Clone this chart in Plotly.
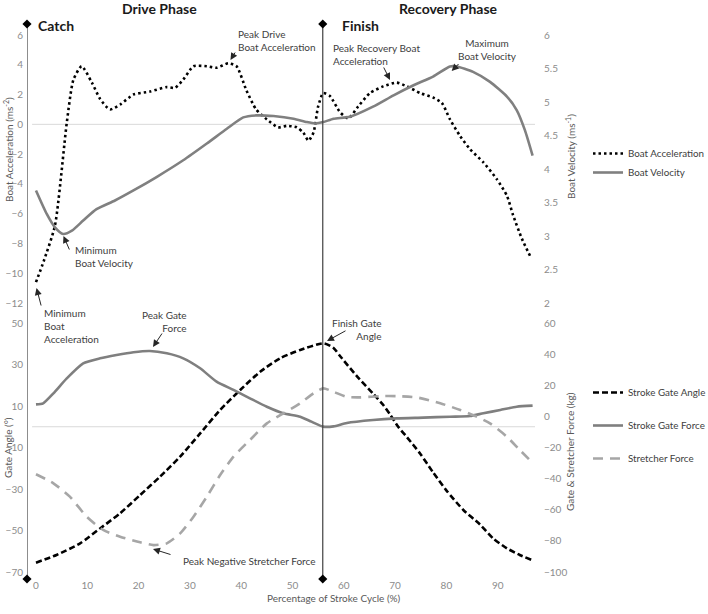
import plotly.graph_objects as go

W, H = 708, 614

# ---------------- data ----------------
acc_x = [0, 1.5, 3.7, 6, 7.3, 8.9, 10.9, 12.5, 14.4, 16.4, 19, 22.2, 25.5, 27.1, 28.7, 30.7,
         33.3, 35.2, 37.5, 39.1, 41, 42.9, 45, 47.2, 48.9, 50.8, 52.1, 53.1, 54.1, 55, 56,
         57.3, 59.3, 60.9, 62.8, 65.1, 67.7, 70.3, 72.3, 74.9, 77.4, 79.1, 80.7, 82.7, 84.6,
         87.2, 89.8, 91.8, 93, 94.7, 96.4]
acc_y = [-10.6, -9.2, -6.8, 0.1, 3.0, 3.9, 2.8, 1.7, 1.0, 1.33, 2.0, 2.2, 2.5, 2.45, 3.0, 3.9,
         3.9, 3.8, 4.1, 3.9, 2.3, 1.0, 0.33, -0.2, -0.1, -0.2, -0.55, -1.1, -0.55, 1.2, 2.1,
         1.9, 0.8, 0.4, 1.2, 2.1, 2.55, 2.8, 2.55, 2.1, 1.8, 1.45, 0.33, -0.8, -1.67,
         -2.55, -3.67, -4.8, -6.1, -7.67, -8.9]

vel_x = [0, 2.1, 3.7, 5.3, 7, 9.2, 11.8, 15.4, 19, 23.5, 28.7, 33.3, 37.2, 40.4, 43, 46.3,
         50.2, 52.8, 54.4, 56, 58, 61.2, 65.7, 69.7, 73.6, 77.4, 80.7, 82, 85.2, 88.5, 91.8,
         93.7, 95.3, 96.8]
vel_y = [3.68, 3.33, 3.13, 3.03, 3.08, 3.23, 3.40, 3.53, 3.68, 3.88, 4.13, 4.38, 4.60, 4.77,
         4.80, 4.79, 4.75, 4.70, 4.68, 4.70, 4.75, 4.78, 4.93, 5.10, 5.25, 5.38, 5.53, 5.53,
         5.45, 5.30, 5.08, 4.88, 4.58, 4.20]

ang_x = [0, 4, 8.6, 12.5, 16.4, 20.3, 24.2, 28.1, 32, 35.9, 39.8, 43.7, 47.6, 51.5, 56.1,
         58, 59.3, 62.5, 65.7, 67.7, 69, 70.6, 72.3, 74.9, 77.4, 80.1, 83.3, 86.5, 89.1,
         91.8, 94.3, 96.6]
ang_y = [-65.5, -61.8, -56.2, -49, -41.7, -32.9, -24, -14.4, -3.2, 8.1, 17.7, 26.5, 33, 37,
         40.2, 38, 34, 24.5, 16, 10.5, 6, 0, -5, -13, -22, -31, -40.1, -47, -53.8,
         -58.6, -61.8, -64.2]

gf_x = [0, 1.4, 3.4, 6, 9.2, 12.5, 15.7, 19, 22.2, 25.5, 28.7, 32, 35.2, 38.5, 41.7, 45,
        48.2, 51.5, 53.7, 56, 58, 60.6, 65.7, 70.3, 75.5, 80.7, 84.6, 87.2, 90.5, 93.7, 96.8]
gf_y = [7.7, 8.4, 14.8, 24.4, 34.1, 37.3, 39.4, 41.2, 42, 40.5, 37.3, 30.9, 22.3, 17, 11.6,
        6.2, 2, -0.2, -3.4, -6.6, -6.4, -4.2, -2.3, -1.3, -0.8, -0.2, 0.2, 2, 4.1, 6.2, 6.9]

sf_x = [0, 3.4, 6.6, 9.9, 13.1, 16.4, 20.3, 22.9, 25.5, 28.1, 30.7, 33.3, 35.9, 38.5, 41.7,
        45, 48.2, 51.5, 54.1, 56, 58, 60.6, 63.2, 67.1, 70.3, 74.2, 78.8, 82.7, 85.9, 88.5,
        91.8, 94.3, 96.8]
sf_y = [-37.2, -43, -51.6, -64.5, -73, -77.3, -80.9, -82.7, -81.6, -75.2, -64.5, -51.6,
        -37.7, -25.9, -15.2, -4.5, 2, 8.4, 14.8, 18, 15.8, 12.5, 12.2, 13, 13, 12.2, 8.4,
        4.1, -0.2, -4.5, -13.1, -21.6, -29.8]

x_ticks = [0, 10, 20, 30, 40, 50, 60, 70, 80, 90]
acc_ticks = [6, 4, 2, 0, -2, -4, -6, -8, -10, -12]
vel_ticks = [6, 5.5, 5, 4.5, 4, 3.5, 3, 2.5, 2]
ang_ticks = [50, 30, 10, -10, -30, -50, -70]
force_ticks = [60, 40, 20, 0, -20, -40, -60, -80, -100]

# phase boundaries (% of stroke cycle)
catch_x = -1.75
finish_x = 55.9

FONT = "Lato"
TICK_C = "#8c8c8c"
TXT_C = "#404040"


def px(xp):
    return xp / W


def py(yp):
    return 1 - yp / H


XL, XR = 27, 535
x_range = [-1.75, 97.27]

fig = go.Figure()

fig.add_trace(go.Scatter(x=acc_x, y=acc_y, xaxis="x2", yaxis="y", mode="lines",
                         name="Boat Acceleration", legend="legend",
                         line=dict(color="black", width=2.6, dash="2.5px,3px", shape="spline", smoothing=0.6)))
fig.add_trace(go.Scatter(x=vel_x, y=vel_y, xaxis="x2", yaxis="y2", mode="lines",
                         name="Boat Velocity", legend="legend",
                         line=dict(color="#808080", width=2.6, shape="spline", smoothing=0.6)))
fig.add_trace(go.Scatter(x=ang_x, y=ang_y, xaxis="x", yaxis="y3", mode="lines",
                         name="Stroke Gate Angle", legend="legend2", legendgroup="a",
                         line=dict(color="black", width=2.6, dash="6px,3px", shape="spline", smoothing=0.6)))
fig.add_trace(go.Scatter(x=gf_x, y=gf_y, xaxis="x", yaxis="y4", mode="lines",
                         name="Stroke Gate Force", legend="legend2", legendgroup="b",
                         line=dict(color="#7f7f7f", width=2.6, shape="spline", smoothing=0.6)))
fig.add_trace(go.Scatter(x=sf_x, y=sf_y, xaxis="x", yaxis="y4", mode="lines",
                         name="Stretcher Force", legend="legend2", legendgroup="c",
                         line=dict(color="#a6a6a6", width=2.6, dash="10px,7px", shape="spline", smoothing=0.6)))

# phase boundary lines with diamond ends (axis spanning the full figure height)
y_top_px, y_bot_px = 24, 579
for bx in [catch_x, finish_x]:
    fig.add_trace(go.Scatter(x=[bx, bx], y=[py(y_top_px), py(y_bot_px)], xaxis="x3", yaxis="y5",
                             mode="lines+markers", showlegend=False, hoverinfo="skip",
                             line=dict(color="#404040", width=1.2),
                             marker=dict(symbol="diamond", size=7, color="black"), cliponaxis=False))

tickfont = dict(family=FONT, size=10, color=TICK_C)
common_y = dict(showgrid=False, zeroline=False, showline=False, ticks="", automargin=False,
                tickfont=tickfont)

fig.update_layout(
    width=W, height=H, template="none",
    paper_bgcolor="white", plot_bgcolor="rgba(0,0,0,0)",
    margin=dict(l=0, r=0, t=0, b=0, autoexpand=False),
    font=dict(family=FONT, size=10, color=TXT_C),
    xaxis=dict(domain=[px(XL), px(XR)], range=x_range, anchor="y3", tickvals=x_ticks,
               showgrid=False, zeroline=False, showline=False, ticks="", automargin=False,
               tickfont=tickfont, ticklabelstandoff=6),
    xaxis2=dict(domain=[px(XL), px(XR)], range=x_range, anchor="y", showticklabels=False,
                showgrid=False, zeroline=False, showline=False, ticks="", matches="x"),
    xaxis3=dict(domain=[px(XL), px(XR)], range=x_range, anchor="y5", overlaying="x",
                visible=False),
    yaxis=dict(domain=[py(303), py(35)], range=[-12, 6], tickvals=acc_ticks, anchor="x2",
               ticklabelstandoff=3, **common_y),
    yaxis2=dict(domain=[py(303), py(35)], range=[2, 6], tickvals=vel_ticks, anchor="x2",
                overlaying="y", side="right", ticklabelstandoff=8, **common_y),
    yaxis3=dict(domain=[py(572), py(323)], range=[-70, 50], tickvals=ang_ticks, anchor="x",
                ticklabelstandoff=3, **common_y),
    yaxis4=dict(domain=[py(572), py(323)], range=[-100, 60], tickvals=force_ticks, anchor="x",
                overlaying="y3", side="right", ticklabelstandoff=8, **common_y),
    yaxis5=dict(domain=[0, 1], range=[0, 1], anchor="x3", visible=False),
    legend=dict(x=px(588), y=py(139), xanchor="left", yanchor="top", bgcolor="rgba(0,0,0,0)",
                font=dict(family=FONT, size=9.8, color=TXT_C), itemwidth=30, tracegroupgap=0),
    legend2=dict(x=px(588), y=py(378), xanchor="left", yanchor="top", bgcolor="rgba(0,0,0,0)",
                 font=dict(family=FONT, size=9.8, color=TXT_C), itemwidth=30, tracegroupgap=14),
)

# zero reference lines
fig.add_shape(type="line", xref="x2 domain", yref="y", x0=0.01, x1=1, y0=0, y1=0,
              line=dict(color="#d9d9d9", width=1), layer="below")
fig.add_shape(type="line", xref="x domain", yref="y3", x0=0.01, x1=1, y0=0, y1=0,
              line=dict(color="#d9d9d9", width=1), layer="below")

ann = []


def text(t, x, y, xanchor="left", size=10, bold=False, color=TXT_C, align="left", angle=0):
    if bold:
        t = "<b>" + t + "</b>"
    ann.append(dict(text=t, x=px(x), y=py(y), xref="paper", yref="paper", showarrow=False,
                    xanchor=xanchor, yanchor="middle", align=align, textangle=angle,
                    font=dict(family=FONT, size=size, color=color)))


def arrow(hx, hy, tx, ty):
    ann.append(dict(text="", x=px(hx), y=py(hy), xref="paper", yref="paper", showarrow=True,
                    ax=tx - hx, ay=ty - hy, arrowhead=2, arrowsize=1.4, arrowwidth=1,
                    arrowcolor="#262626", standoff=0, startstandoff=0))


# phase headers
text("Drive Phase", 159, 8, xanchor="center", size=14, bold=True, color="#1a1a1a")
text("Recovery Phase", 448, 8, xanchor="center", size=14, bold=True, color="#1a1a1a")
text("Catch", 36, 25, size=14, bold=True, color="#1a1a1a")
text("Finish", 340, 25, size=14, bold=True, color="#1a1a1a")

# callouts
text("Peak Drive<br>Boat Acceleration", 236, 40.5)
arrow(230.5, 60, 236, 51)
text("Peak Recovery Boat<br>Acceleration", 331, 54)
arrow(390, 80, 383, 66)
text("Maximum<br>Boat Velocity", 487, 49.5, xanchor="center", align="center")
arrow(451.7, 71, 460, 62.5)
text("Minimum<br>Boat Velocity", 73, 256.5)
arrow(63.5, 236, 70, 251)
text("Minimum<br>Boat<br>Acceleration", 42, 326)
arrow(36.5, 288, 41.5, 307)
text("Peak Gate<br>Force", 189, 321, xanchor="right", align="right")
arrow(153, 347, 163, 332)
text("Finish Gate<br>Angle", 384, 329, xanchor="right", align="right")
arrow(327, 341, 347, 330)
text("Peak Negative Stretcher Force", 181, 561)
arrow(153, 549, 172, 555)

# axis titles
text("Boat Acceleration (ms<sup>-2</sup>)", 8, 150, xanchor="center", size=10, angle=-90,
     color="#595959")
text("Boat Velocity (ms<sup>-1</sup>)", 570, 157, xanchor="center", size=10, angle=-90,
     color="#595959")
text("Gate Angle (°)", 8, 448, xanchor="center", size=10, angle=-90, color="#595959")
text("Gate &amp; Stretcher Force (kg)", 570, 452, xanchor="center", size=10, angle=-90,
     color="#595959")
text("Percentage of Stroke Cycle (%)", 334, 598, xanchor="center", size=10, color="#595959")

fig.update_layout(annotations=ann)

fig.write_html("out.html", config={"displayModeBar": False},
               post_script="document.body.style.margin='0';document.body.style.overflow='hidden';")
